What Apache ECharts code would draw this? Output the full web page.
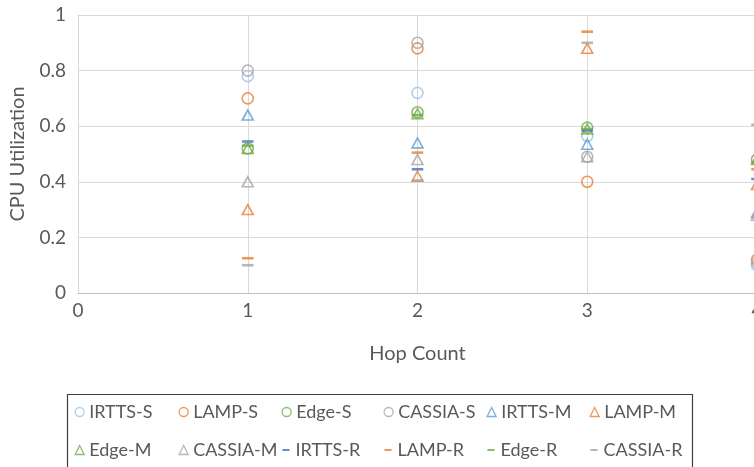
<!DOCTYPE html>
<html>
<head>
<meta charset="utf-8">
<script src="https://cdn.jsdelivr.net/npm/echarts@6/dist/echarts.min.js"></script>
<style>
  html, body { margin: 0; padding: 0; background: #fff; overflow: hidden; }
  #chart { width: 800px; height: 467px; }
</style>
</head>
<body>
<div id="chart"></div>
<script>
// Hop counts on the x axis
const hops = [1, 2, 3, 4];
const yTicks = [0, 0.2, 0.4, 0.6, 0.8, 1];

// CPU utilization per hop count, one array per series
const irttsS  = [0.78, 0.72, 0.565, 0.10];
const lampS   = [0.70, 0.88, 0.40, 0.12];
const edgeS   = [0.52, 0.65, 0.595, 0.48];
const cassiaS = [0.80, 0.90, 0.49, 0.11];
const irttsM  = [0.64, 0.54, 0.535, 0.29];
const lampM   = [0.30, 0.42, 0.88, 0.39];
const edgeM   = [0.52, 0.645, 0.59, 0.48];
const cassiaM = [0.40, 0.48, 0.49, 0.28];
const irttsR  = [0.545, 0.445, 0.585, 0.41];
const lampR   = [0.125, 0.505, 0.94, 0.445];
const edgeR   = [0.53, 0.64, 0.59, 0.47];
const cassiaR = [0.10, 0.405, 0.90, 0.605];

const seriesNames = ['IRTTS-S', 'LAMP-S', 'Edge-S', 'CASSIA-S',
                     'IRTTS-M', 'LAMP-M', 'Edge-M', 'CASSIA-M',
                     'IRTTS-R', 'LAMP-R', 'Edge-R', 'CASSIA-R'];
const seriesValues = [irttsS, lampS, edgeS, cassiaS,
                      irttsM, lampM, edgeM, cassiaM,
                      irttsR, lampR, edgeR, cassiaR];

const colors = ['#9DC3E6', '#ED7D31', '#70AD47', '#A5A5A5',
                '#5B9BD5', '#ED7D31', '#70AD47', '#A5A5A5',
                '#4472C4', '#ED7D31', '#70AD47', '#A5A5A5'];
const kinds = ['circle', 'circle', 'circle', 'circle',
               'triangle', 'triangle', 'triangle', 'triangle',
               'dash', 'dash', 'dash', 'dash'];

const FONT = 'Lato';
// short horizontal bar inside a 10x10 box (tiny corner specks keep the box square)
const dashIcon = 'path://M0,0L0.05,0L0.05,0.05Z M1,3.9L9,3.9L9,6.1L1,6.1Z M9.95,9.95L10,9.95L10,10Z';

function makeSeries(i) {
  const kind = kinds[i];
  const c = colors[i];
  const s = {
    name: seriesNames[i],
    type: 'scatter',
    data: hops.map((h, k) => [h, seriesValues[i][k]]),
    z: 2 + i,
    emphasis: { disabled: true },
    animation: false
  };
  if (kind === 'dash') {
    s.symbol = 'rect';
    s.symbolSize = [11.5, 2.6];
    s.itemStyle = { color: c };
  } else if (kind === 'circle') {
    s.symbol = 'circle';
    s.symbolSize = 11;
    s.itemStyle = { color: 'rgba(255,255,255,0)', borderColor: c, borderWidth: 1.6 };
  } else {
    s.symbol = 'triangle';
    s.symbolSize = [11, 10];
    s.itemStyle = { color: 'rgba(255,255,255,0)', borderColor: c, borderWidth: 1.6 };
  }
  return s;
}

// Legend laid out as a 6 x 2 grid, one legend component per cell
const colCenters = [79, 183, 286, 388, 491, 594];
const rowTops = [403, 441];

function legendCell(i) {
  const k = kinds[i];
  const col = i % 6, row = Math.floor(i / 6);
  return {
    orient: 'horizontal',
    left: colCenters[col] - 4.5,
    top: rowTops[row],
    itemWidth: 9,
    itemHeight: 9,
    padding: 0,
    selectedMode: false,
    textStyle: { fontFamily: FONT, fontSize: 18, color: '#595959' },
    data: [{
      name: seriesNames[i],
      icon: k === 'dash' ? dashIcon : k,
      itemStyle: k === 'dash'
        ? { color: colors[i] }
        : { color: 'rgba(255,255,255,0)', borderColor: colors[i], borderWidth: 1.3 }
    }]
  };
}

const chart = echarts.init(document.getElementById('chart'), null, { renderer: 'canvas' });
chart.setOption({
  animation: false,
  backgroundColor: '#ffffff',
  grid: { left: 77, top: 15, width: 680, height: 278, containLabel: false },
  xAxis: {
    type: 'value',
    min: 0, max: 4, interval: 1,
    name: 'Hop Count',
    nameLocation: 'middle',
    nameGap: 51,
    nameTextStyle: { fontFamily: FONT, fontSize: 20, color: '#595959' },
    axisLine: { show: true, lineStyle: { color: '#BFBFBF', width: 1 } },
    axisTick: { show: false },
    axisLabel: { margin: 8, fontFamily: FONT, fontSize: 19, color: '#595959' },
    splitLine: { show: true, lineStyle: { color: '#D9D9D9', width: 1 } }
  },
  yAxis: {
    type: 'value',
    min: yTicks[0], max: yTicks[yTicks.length - 1], interval: 0.2,
    name: 'CPU Utilization',
    nameLocation: 'middle',
    nameGap: 50,
    nameTextStyle: { fontFamily: FONT, fontSize: 20, color: '#595959' },
    axisLine: { show: true, lineStyle: { color: '#D9D9D9', width: 1 } },
    axisTick: { show: false },
    axisLabel: { margin: 12, fontFamily: FONT, fontSize: 19, color: '#595959',
                 formatter: v => String(Math.round(v * 10) / 10) },
    splitLine: { show: true, lineStyle: { color: '#D9D9D9', width: 1 } }
  },
  legend: seriesNames.map((_, i) => legendCell(i)),
  graphic: [{
    type: 'rect',
    left: 65, top: 392,
    shape: { width: 625, height: 73 },
    style: { fill: 'none', stroke: '#404040', lineWidth: 1.2 },
    silent: true
  }],
  series: seriesNames.map((_, i) => makeSeries(i))
});
</script>
</body>
</html>
